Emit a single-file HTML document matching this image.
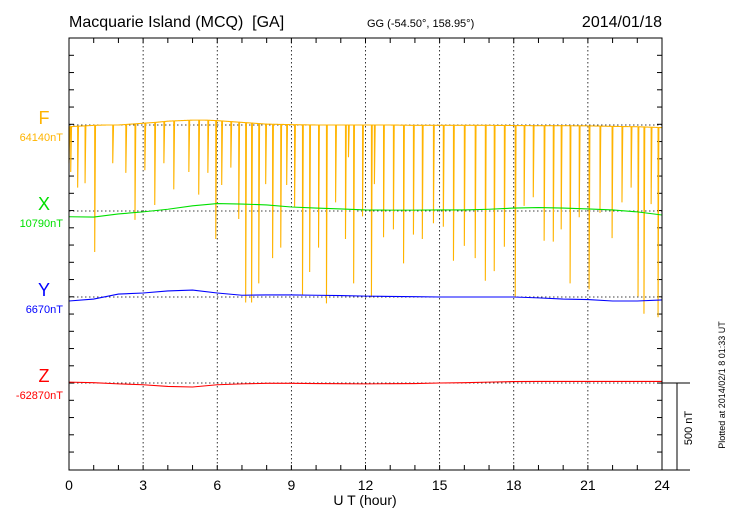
<!DOCTYPE html>
<html><head><meta charset="utf-8"><style>
body{margin:0;background:#fff}
svg{display:block;font-family:"Liberation Sans",sans-serif}
</style></head><body>
<svg id="c" width="730" height="520"></svg>
<script>
const fHours=[0,0.5,1,1.5,2,2.5,3,3.5,4,4.5,5,5.5,6,6.5,7,7.5,8,9,10,11,12,13,14,15,16,17,18,19,20,21,22,23,24];
const fBase=[64130,64134,64138,64140,64140,64145,64150,64155,64162,64165,64168,64168,64165,64160,64155,64150,64145,64142,64140,64140,64140,64140,64138,64138,64138,64138,64137,64136,64136,64135,64132,64130,64125];
const spikeHours=[0.0,0.07,0.35,0.65,1.04,1.77,2.30,2.67,3.07,3.47,3.84,4.24,4.85,5.25,5.62,5.94,6.18,6.55,6.87,7.15,7.39,7.68,7.96,8.24,8.57,8.81,9.13,9.45,9.74,10.10,10.42,10.79,11.19,11.31,11.52,11.88,12.24,12.36,12.73,13.13,13.54,13.94,14.30,14.75,15.15,15.56,16.00,16.44,16.85,17.21,17.62,18.06,18.42,18.79,19.23,19.60,19.92,20.28,20.65,21.05,21.49,21.98,22.38,22.75,23.03,23.27,23.56,23.84];
const spikeMin=[63920,63870,63780,63805,63410,63920,63865,63595,63880,63680,63920,63770,63870,63740,63865,63485,63795,63895,63600,63120,63120,63230,63800,63375,63435,63795,63670,63165,63295,63435,63115,63695,63485,63955,63230,63615,63150,63800,63495,63540,63345,63510,63485,63575,63555,63360,63445,63375,63245,63300,63440,63150,63675,63725,63475,63470,63540,63230,63610,63195,63635,63490,63695,63780,63155,63055,63685,63035];
const xHours=[0,1,2,3,4,5,6,7,8,9,10,11,12,13,14,15,16,17,18,19,20,21,22,23,24];
const xVals=[10757,10755,10773,10785,10800,10820,10833,10830,10825,10813,10807,10802,10796,10795,10795,10796,10796,10800,10807,10810,10807,10802,10796,10785,10767];
const yVals=[6647,6658,6687,6693,6705,6710,6693,6680,6682,6682,6680,6678,6675,6673,6672,6670,6670,6670,6670,6665,6658,6655,6647,6647,6653];
const zVals=[-62865,-62868,-62875,-62880,-62890,-62893,-62880,-62875,-62872,-62872,-62873,-62874,-62875,-62874,-62873,-62870,-62868,-62865,-62862,-62861,-62861,-62861,-62861,-62861,-62861];
const hourTicks=[0,3,6,9,12,15,18,21,24];

const NS="http://www.w3.org/2000/svg", svg=document.getElementById('c');
const L=69,R=662,T=38,B=470,K=0.174;
const xs=h=>L+h*(R-L)/24;
function mk(t,a,txt){const e=document.createElementNS(NS,t);for(const k in a)e.setAttribute(k,a[k]);if(txt!=null)e.textContent=txt;svg.appendChild(e);return e;}
const comps=[
 {n:'f',lab:'F',base:64140,py:125,col:'#ffb400'},
 {n:'x',lab:'X',base:10790,py:211,col:'#00e000'},
 {n:'y',lab:'Y',base:6670,py:297,col:'#0000ff'},
 {n:'z',lab:'Z',base:-62870,py:383,col:'#ff0000'}];
const ysc=(c,v)=>c.py-(v-c.base)*K;
// grid
hourTicks.slice(1,-1).forEach(h=>{const e=mk('line',{x1:xs(h),x2:xs(h),y1:T,y2:B,stroke:'#000','stroke-width':0.8,'stroke-dasharray':'1.5,2.5'});
});
comps.forEach(c=>{const e=mk('line',{x1:L,x2:R,y1:c.py,y2:c.py,stroke:'#000','stroke-width':0.8,'stroke-dasharray':'1.5,2.5'});
});
// ticks
for(let h=0;h<=24;h++){mk('line',{x1:xs(h),x2:xs(h),y1:B,y2:B-5,stroke:'#000'});mk('line',{x1:xs(h),x2:xs(h),y1:T,y2:T+5,stroke:'#000'});}
for(let y=T+17.3;y<B-2;y+=17.25){mk('line',{x1:L,x2:L+5,y1:y,y2:y,stroke:'#000'});mk('line',{x1:R,x2:R-5,y1:y,y2:y,stroke:'#000'});}
hourTicks.forEach(h=>{const e=mk('text',{x:xs(h),y:490,'text-anchor':'middle','font-size':14},String(h));
});
// series
function poly(pts,col,name){const e=mk('polyline',{points:pts.map(p=>p.join(',')).join(' '),fill:'none',stroke:col,'stroke-width':1.1});
}
function interp(hs,vs,h){for(let i=1;i<hs.length;i++)if(h<=hs[i]){const t=(h-hs[i-1])/(hs[i]-hs[i-1]);return vs[i-1]+t*(vs[i]-vs[i-1]);}return vs[vs.length-1];}
// F with spikes
const F=comps[0];let fp=[];let si=0;
for(let h=0;h<=24.0001;h+=0.02){
 while(si<spikeHours.length&&spikeHours[si]<=h){const sh=spikeHours[si];const b=interp(fHours,fBase,sh);
  fp.push([xs(sh),ysc(F,b)],[xs(sh),ysc(F,spikeMin[si])],[xs(sh)+0.8,ysc(F,b)]);si++;}
 fp.push([xs(h),ysc(F,interp(fHours,fBase,h))]);}
poly(fp,F.col,'f-series');
[[xVals,1],[yVals,2],[zVals,3]].forEach(([vals,i])=>{const c=comps[i];poly(xHours.map((h,j)=>[xs(h),ysc(c,vals[j])]),c.col,c.n+'-series');});
// labels
comps.forEach(c=>{let e=mk('text',{x:44,y:c.py-1,'text-anchor':'middle','font-size':18,fill:c.col},c.lab);

e=mk('text',{x:63,y:c.py+16,'text-anchor':'end','font-size':11,fill:c.col},c.base+'nT');
});
// frame
const fr=mk('rect',{x:L,y:T,width:R-L,height:B-T,fill:'none',stroke:'#000','stroke-width':1});

// scale bar
mk('line',{x1:R,x2:690,y1:B,y2:B,stroke:'#000'});
mk('line',{x1:R,x2:690,y1:383,y2:383,stroke:'#000'});
mk('line',{x1:677,x2:677,y1:383,y2:B,stroke:'#000'});
let sb=mk('text',{x:0,y:0,'font-size':11,'text-anchor':'middle',transform:'translate(692,428) rotate(-90)'},'500 nT');

let pt=mk('text',{x:0,y:0,'font-size':9,'text-anchor':'middle',transform:'translate(725,385) rotate(-90)'},'Plotted at 2014/02/1 8 01:33 UT');

// titles
let t=mk('text',{x:69,y:27,'font-size':16},'Macquarie Island (MCQ)  [GA]');
t.setAttribute('xml:space','preserve');t.style.whiteSpace='pre';
t=mk('text',{x:367,y:27,'font-size':11},'GG (-54.50°, 158.95°)');

t=mk('text',{x:662,y:27,'font-size':16,'text-anchor':'end'},'2014/01/18');

t=mk('text',{x:365,y:505,'font-size':14,'text-anchor':'middle'},'U T (hour)');

</script>
</body></html>
